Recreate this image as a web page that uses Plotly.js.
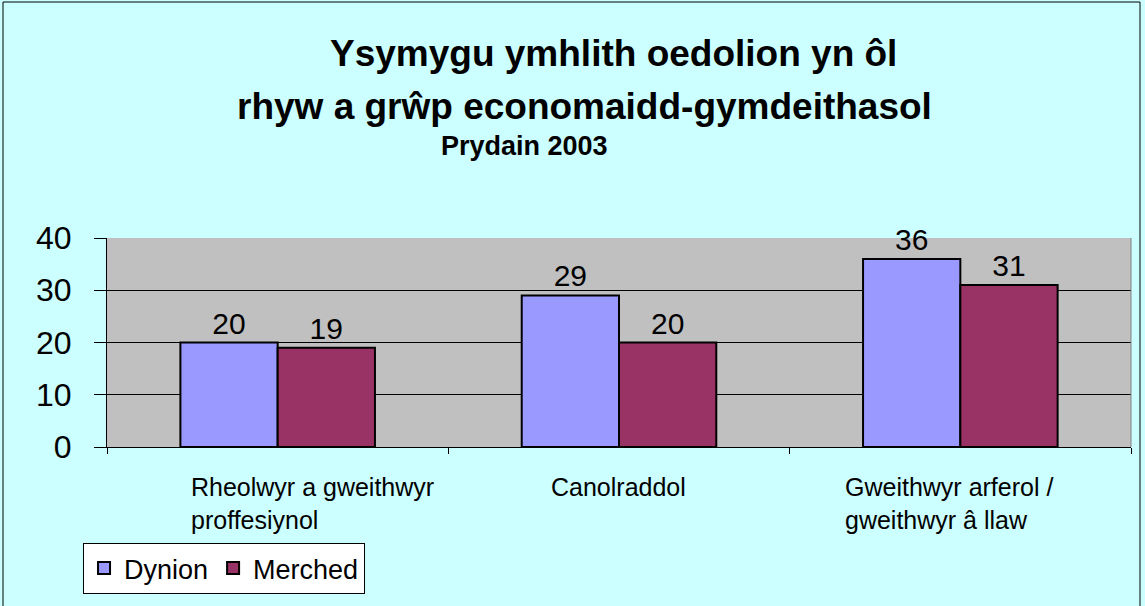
<!DOCTYPE html>
<html>
<head>
<meta charset="utf-8">
<script src="https://cdn.plot.ly/plotly-3.0.1.min.js"></script>
<style>
html,body{margin:0;padding:0;background:#CCFFFF;}
#chart{width:1145px;height:606px;}
</style>
</head>
<body>
<div id="chart"></div>
<script>
const categories = ["Rheolwyr a gweithwyr proffesiynol", "Canolraddol", "Gweithwyr arferol / gweithwyr â llaw"];
const categoryLabels = ["Rheolwyr a gweithwyr<br>proffesiynol", "Canolraddol", "Gweithwyr arferol /<br>gweithwyr â llaw"];
const dynion = [20, 29, 36];
const merched = [19, 20, 31];
const seriesNames = ["Dynion", "Merched"];
const yTicks = [0, 10, 20, 30, 40];
const titleLines = ["Ysymygu ymhlith oedolion yn ôl", "rhyw a grŵp economaidd-gymdeithasol", "Prydain 2003"];

const FONT = "Liberation Sans, Arial, sans-serif";
const labelShift = [-89, -70, -117];

function barTrace(name, vals, color) {
  return {
    type: "bar", name: name, x: categories, y: vals,
    marker: {color: color, line: {color: "#000000", width: 2}},
    text: vals.map(String), textposition: "outside", cliponaxis: false,
    textfont: {family: FONT, size: 30, color: "#000000"},
    hoverinfo: "x+y"
  };
}

const data = [
  barTrace(seriesNames[0], dynion, "#9999FF"),
  barTrace(seriesNames[1], merched, "#993366")
];

const annotations = [
  {text: "<b>" + titleLines[0] + "</b>", xref: "paper", yref: "paper", x: 0.2158, y: 1.885, xanchor: "left", yanchor: "middle", showarrow: false, font: {family: FONT, size: 37, color: "#000"}},
  {text: "<b>" + titleLines[1] + "</b>", xref: "paper", yref: "paper", x: 0.125, y: 1.628, xanchor: "left", yanchor: "middle", showarrow: false, font: {family: FONT, size: 37, color: "#000"}},
  {text: "<b>" + titleLines[2] + "</b>", xref: "paper", yref: "paper", x: 0.324, y: 1.44, xanchor: "left", yanchor: "middle", showarrow: false, font: {family: FONT, size: 27, color: "#000"}}
];
categories.forEach((c, i) => {
  annotations.push({text: categoryLabels[i], xref: "x", yref: "paper", x: c, y: -0.115, xanchor: "left", yanchor: "top", xshift: labelShift[i], align: "left", showarrow: false, font: {family: FONT, size: 25, color: "#000"}});
});

const layout = {
  width: 1145, height: 606,
  paper_bgcolor: "#CCFFFF", plot_bgcolor: "#C0C0C0",
  margin: {l: 107, r: 14, t: 238, b: 159, pad: 0},
  font: {family: FONT, color: "#000"},
  barmode: "group", bargap: 0.43, bargroupgap: 0,
  showlegend: true,
  legend: {orientation: "h", x: -0.0234, y: -0.459, xanchor: "left", yanchor: "top",
    bgcolor: "#FFFFFF", bordercolor: "#000000", borderwidth: 1,
    font: {family: FONT, size: 27, color: "#000"}, itemwidth: 30, traceorder: "normal"},
  xaxis: {type: "category", showticklabels: false, ticks: "outside", ticklen: 6, tickcolor: "#000",
    tickson: "boundaries", showline: true, linecolor: "#000", linewidth: 1, showgrid: false, zeroline: false, fixedrange: true},
  yaxis: {range: [0, 40], tickvals: yTicks, ticktext: yTicks.map(String), ticks: "outside", ticklen: 12, tickcolor: "#000",
    tickfont: {family: FONT, size: 32, color: "#000"}, ticklabelstandoff: 16,
    showline: true, linecolor: "#000", linewidth: 1, showgrid: true, gridcolor: "#000", gridwidth: 1, zeroline: false, fixedrange: true},
  annotations: annotations,
  shapes: [
    {type: "line", xref: "paper", yref: "paper", x0: 1, x1: 1, y0: 0, y1: 1, line: {color: "#808080", width: 1}, layer: "above"},
    {type: "rect", xref: "paper", yref: "paper", x0: (3 - 107) / 1024, x1: (1140 - 107) / 1024, y0: (447 - 612) / 209, y1: (447 - 2) / 209, line: {color: "#000000", width: 1}, fillcolor: "rgba(0,0,0,0)", layer: "below"}
  ]
};

Plotly.newPlot("chart", data, layout, {displayModeBar: false, staticPlot: true});
</script>
</body>
</html>
